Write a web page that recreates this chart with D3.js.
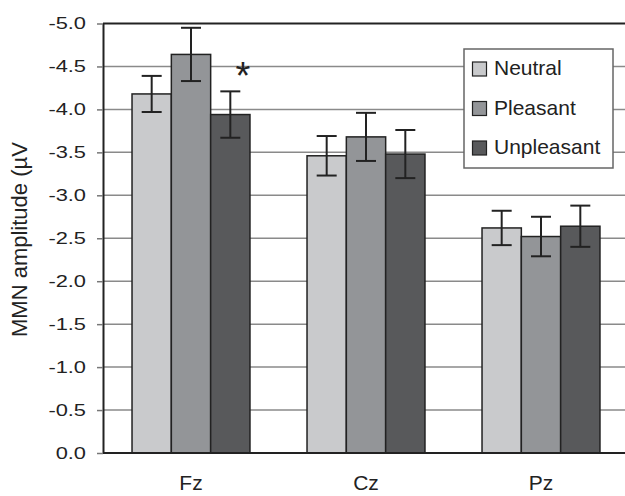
<!DOCTYPE html>
<html>
<head>
<meta charset="utf-8">
<script src="https://cdn.jsdelivr.net/npm/d3@7"></script>
<style>
  body { margin: 0; background: #fff; }
  text { font-family: "Liberation Sans", Arial, sans-serif; fill: #222; }
</style>
</head>
<body>
<div id="chart"></div>
<script>
// data (MMN amplitude, µV)
const sites = ["Fz", "Cz", "Pz"];
const conditions = ["Neutral", "Pleasant", "Unpleasant"];
const neutral = [-4.18, -3.46, -2.62];
const pleasant = [-4.64, -3.68, -2.52];
const unpleasant = [-3.94, -3.48, -2.64];
const neutralErr = [0.21, 0.23, 0.20];
const pleasantErr = [0.31, 0.28, 0.23];
const unpleasantErr = [0.27, 0.28, 0.24];
const yTicks = [0, -0.5, -1, -1.5, -2, -2.5, -3, -3.5, -4, -4.5, -5];
const colors = ["#c9cacc", "#939598", "#58595b"];

const width = 625, height = 496;
const margin = {top: 23.5, left: 103, bottom: 43};

const svg = d3.select("#chart")
  .append("svg")
  .attr("width", width)
  .attr("height", height);

const y = d3.scaleLinear()
  .domain([0, -5])
  .range([height - margin.bottom, margin.top]);

const x = d3.scaleBand()
  .domain(sites)
  .range([margin.left + 0.5, margin.left + 525.5])
  .paddingInner(0.326)
  .paddingOuter(0.163);

const xSub = d3.scaleBand()
  .domain(conditions)
  .range([0, x.bandwidth()]);

// gridlines
svg.append("g")
  .selectAll("line")
  .data(yTicks.filter(d => d !== 0))
  .join("line")
    .attr("x1", margin.left)
    .attr("x2", width)
    .attr("y1", d => y(d))
    .attr("y2", d => y(d))
    .attr("stroke", d => d === -5 ? "#222" : "#8a8a8a")
    .attr("stroke-width", d => d === -5 ? 2 : 1.5);

// y axis
const yAxis = svg.append("g")
  .attr("transform", `translate(${margin.left},0)`)
  .call(d3.axisLeft(y).tickValues(yTicks).tickSize(6).tickSizeOuter(0)
    .tickFormat(d => d.toFixed(1)));
yAxis.select(".domain").attr("stroke", "#222").attr("stroke-width", 2);
yAxis.selectAll(".tick line").attr("stroke", "#777").attr("stroke-width", 1.5);
yAxis.selectAll(".tick text")
  .attr("x", -17 / 1.34)
  .attr("transform", "scale(1.34,1)")
  .style("font-size", "16.3px")
  .attr("fill", "#222");

// rows of data per site
const rows = sites.map((s, i) => ({
  site: s,
  vals: [
    {c: conditions[0], v: neutral[i], e: neutralErr[i]},
    {c: conditions[1], v: pleasant[i], e: pleasantErr[i]},
    {c: conditions[2], v: unpleasant[i], e: unpleasantErr[i]}
  ]
}));

const groups = svg.append("g")
  .selectAll("g")
  .data(rows)
  .join("g")
    .attr("transform", d => `translate(${x(d.site)},0)`);

groups.selectAll("rect")
  .data(d => d.vals)
  .join("rect")
    .attr("x", d => xSub(d.c))
    .attr("y", d => y(d.v))
    .attr("width", xSub.bandwidth())
    .attr("height", d => y(0) - y(d.v))
    .attr("fill", (d, i) => colors[i])
    .attr("stroke", "#222")
    .attr("stroke-width", 1.5);

// error bars
const err = groups.selectAll("g.err")
  .data(d => d.vals)
  .join("g")
    .attr("class", "err")
    .attr("stroke", "#222")
    .attr("stroke-width", 2);
err.append("line")
  .attr("x1", d => xSub(d.c) + xSub.bandwidth() / 2)
  .attr("x2", d => xSub(d.c) + xSub.bandwidth() / 2)
  .attr("y1", d => y(d.v - d.e))
  .attr("y2", d => y(d.v + d.e));
err.selectAll("line.cap")
  .data(d => [{d: d, v: d.v - d.e}, {d: d, v: d.v + d.e}])
  .join("line")
    .attr("class", "cap")
    .attr("x1", d => xSub(d.d.c) + xSub.bandwidth() / 2 - 10)
    .attr("x2", d => xSub(d.d.c) + xSub.bandwidth() / 2 + 10)
    .attr("y1", d => y(d.v))
    .attr("y2", d => y(d.v));

// x axis
svg.append("line")
  .attr("x1", margin.left)
  .attr("x2", width)
  .attr("y1", y(0))
  .attr("y2", y(0))
  .attr("stroke", "#222")
  .attr("stroke-width", 2);
svg.append("g")
  .selectAll("text")
  .data(sites)
  .join("text")
    .attr("x", d => x(d) + x.bandwidth() / 2)
    .attr("y", 490)
    .attr("text-anchor", "middle")
    .style("font-size", "21px")
    .text(d => d);

// significance mark
svg.append("text")
  .attr("x", 243)
  .attr("y", 89)
  .attr("text-anchor", "middle")
  .style("font-size", "38px")
  .style("font-weight", "300")
  .text("*");

// y label
svg.append("text")
  .attr("transform", "translate(27,337) rotate(-90)")
  .style("font-size", "22px")
  .text("MMN amplitude (µV");

// legend
const legend = svg.append("g");
legend.append("rect")
  .attr("x", 464)
  .attr("y", 49)
  .attr("width", 149)
  .attr("height", 119)
  .attr("fill", "#fff")
  .attr("stroke", "#666")
  .attr("stroke-width", 1.5);
const li = legend.selectAll("g.item")
  .data(conditions)
  .join("g")
    .attr("class", "item")
    .attr("transform", (d, i) => `translate(0,${75 + i * 39.5})`);
li.append("rect")
  .attr("x", 472.5)
  .attr("y", -13)
  .attr("width", 14)
  .attr("height", 14)
  .attr("fill", (d, i) => colors[i])
  .attr("stroke", "#222")
  .attr("stroke-width", 1.2);
li.append("text")
  .attr("x", 494)
  .attr("y", 0)
  .style("font-size", "21px")
  .text(d => d);
</script>
</body>
</html>
